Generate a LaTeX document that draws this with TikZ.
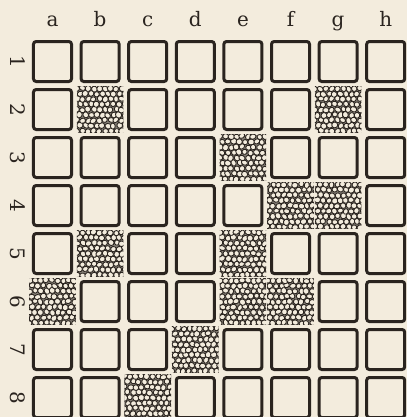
\documentclass[tikz,border=0pt]{standalone}
\usepackage{fontspec}
\setmainfont{DejaVu Serif}
\usepackage{tikz}
\usetikzlibrary{calc}
\definecolor{paper}{RGB}{243,236,221}
\definecolor{ink}{RGB}{42,36,31}

% cells covered with the stone pattern
\foreach \s in {b2,g2,e3,f4,g4,b5,e5,a6,e6,f6,d7,c8}{\expandafter\gdef\csname stone\s\endcsname{}}

\begin{document}
\begin{tikzpicture}[x=0.03cm, y=0.03cm,
        cell/.style={rectangle, draw=ink, line width=0.09cm, rounded corners=0.08cm, minimum width=1.14cm, minimum height=1.2cm, inner sep=0pt},
        stones/.style={rectangle, minimum width=1.4cm, minimum height=1.38cm, inner sep=0pt,
            path picture={
                \fill[ink!55!paper] (path picture bounding box.south west) rectangle (path picture bounding box.north east);
                \foreach \i in {0,...,8}{
                    \foreach \j in {0,...,8}{
                        \filldraw[fill=paper, draw=ink, line width=0.026cm] ($(path picture bounding box.south west)+({\i*5.6+mod(\j,2)*2.8+0.3+0.7*rand},{\j*5.3+1.6+0.7*rand})$)
                            circle [x radius={0.03cm*(3.0+0.4*rand)}, y radius={0.03cm*(2.7+0.35*rand)}, rotate={90*rand}];
                    }
                }
            }},
        collab/.style={font=\fontsize{17}{20}\selectfont, text=ink, anchor=base},
        rowlab/.style={font=\fontsize{17}{20}\selectfont, text=ink, rotate=-90}
    ]
    \pgfmathsetseed{17}
    \fill[paper] (0,0) rectangle (407,-417);
    \useasboundingbox (0,0) rectangle (407,-417);

    % board
    \foreach \c [count=\ci from 0] in {a,b,c,d,e,f,g,h}{
        \node[collab] (col\c) at ({52.5+47.6*\ci},-26) {\c};
        \foreach \r in {1,...,8}{
            \ifcsname stone\c\r\endcsname\def\kind{stones}\else\def\kind{cell}\fi
            \node[\kind] (\c\r) at ({52.5+47.6*\ci},{-13.5-48*\r}) {};
        }
    }

    % rank numbers
    \foreach \r in {1,...,8}{
        \node[rowlab] (row\r) at (17.5,{-13.5-48*\r}) {\r};
    }
\end{tikzpicture}
\end{document}
